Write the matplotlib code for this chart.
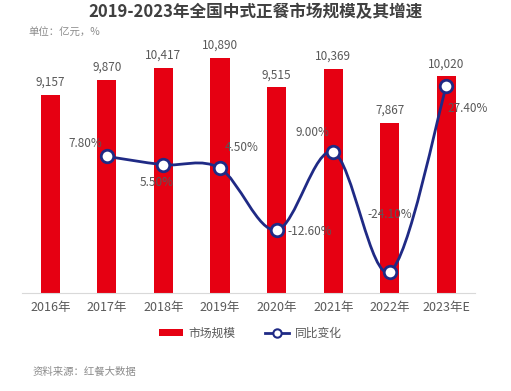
import matplotlib
matplotlib.use("Agg")
import matplotlib.pyplot as plt
from matplotlib.path import Path
from matplotlib.patches import PathPatch
from matplotlib.lines import Line2D
from matplotlib.patches import Patch
import numpy as np

plt.rcParams['font.family'] = ['Noto Sans CJK SC', 'DejaVu Sans']

years = ['2016年', '2017年', '2018年', '2019年', '2020年', '2021年', '2022年', '2023年E']
market = [9157, 9870, 10417, 10890, 9515, 10369, 7867, 10020]
growth = [7.80, 5.50, 4.50, -12.60, 9.00, -24.10, 27.40]

red = '#e60012'
navy = '#1f2a85'
grey = '#595959'

fig = plt.figure(figsize=(5.11, 3.91), dpi=100)
ax1 = fig.add_axes([0.043, 0.2506, 0.886, 0.647])
ax2 = ax1.twinx()

x = np.arange(len(years))
ax1.bar(x, market, width=0.34, color=red, zorder=2)
for i, v in enumerate(market):
    ax1.text(i, v + 280, f'{v:,}', ha='center', va='bottom', fontsize=8.5, color=grey)

ax1.set_xlim(-0.5, len(years) - 0.5)
ax1.set_ylim(0, 11700)
ax1.set_yticks([])
ax1.set_xticks(x)
ax1.set_xticklabels(years, fontsize=9, color=grey)
ax1.tick_params(axis='x', length=0, pad=6)
for s in ['top', 'left', 'right']:
    ax1.spines[s].set_visible(False)
ax1.spines['bottom'].set_color('#d9d9d9')

# smooth line through growth points (Catmull-Rom -> cubic bezier)
gx = x[1:]
pts = np.column_stack([gx, growth])
verts = [tuple(pts[0])]
codes = [Path.MOVETO]
t = 0.5
for i in range(len(pts) - 1):
    p0 = pts[i - 1] if i > 0 else pts[i]
    p1, p2 = pts[i], pts[i + 1]
    p3 = pts[i + 2] if i + 2 < len(pts) else pts[i + 1]
    c1 = p1 + (p2 - p0) * t / 3
    c2 = p2 - (p3 - p1) * t / 3
    verts += [tuple(c1), tuple(c2), tuple(p2)]
    codes += [Path.CURVE4] * 3
ax2.add_patch(PathPatch(Path(verts, codes), facecolor='none', edgecolor=navy, lw=2, zorder=3))
ax2.plot(gx, growth, ls='none', marker='o', ms=9, mfc='white', mec=navy, mew=2, zorder=4)
ax2.set_ylim(-30, 40)
ax2.set_yticks([])
for s in ['top', 'left', 'right', 'bottom']:
    ax2.spines[s].set_visible(False)

offsets = [(-0.38, 3.5), (-0.12, -5.0), (0.39, 5.8), (0.58, -0.5), (-0.37, 5.5), (0.0, 15.8), (0.38, -6.4)]
for xi, g, (dx, dy) in zip(gx, growth, offsets):
    ax2.text(xi + dx, g + dy, f'{g:.2f}%', ha='center', va='center', fontsize=8.5, color=grey, zorder=5)

fig.text(0.5, 0.968, '2019-2023年全国中式正餐市场规模及其增速', ha='center', va='center',
         fontsize=12, fontweight='bold', color='#404040')
fig.text(0.055, 0.915, '单位：亿元，%', ha='left', va='center', fontsize=7.5, color='#8c8c8c')
fig.text(0.063, 0.048, '资料来源：红餐大数据', ha='left', va='center', fontsize=7.5, color='#8c8c8c')

handles = [Patch(facecolor=red),
           Line2D([0], [0], color=navy, lw=2, marker='o', ms=6, mfc='white', mec=navy, mew=1.5)]
fig.legend(handles, ['市场规模', '同比变化'], loc='center', bbox_to_anchor=(0.49, 0.148),
           ncol=2, frameon=False, fontsize=8.5, labelcolor=grey, handlelength=2.0,
           handleheight=0.6, columnspacing=2.5, handletextpad=0.5)

fig.savefig('out.png', dpi=100)
